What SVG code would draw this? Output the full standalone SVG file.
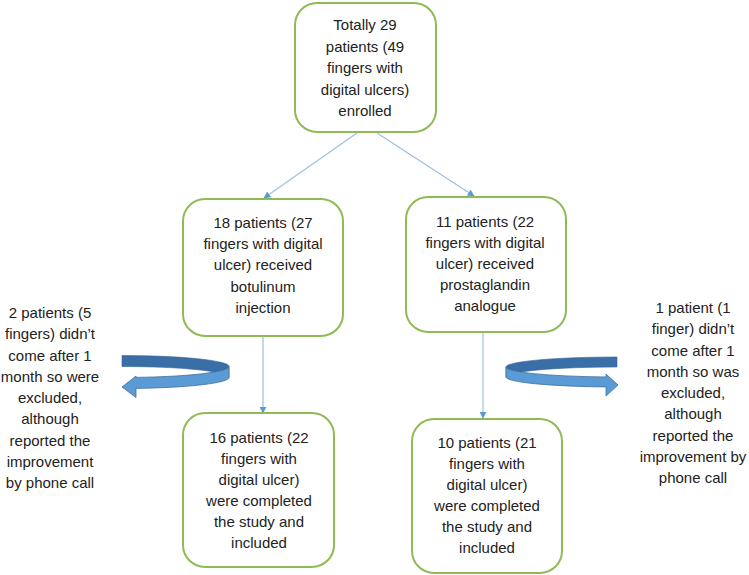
<svg xmlns="http://www.w3.org/2000/svg" width="749" height="575" viewBox="0 0 749 575">
<defs>
<style>
.box{fill:#fff;stroke:#8fbb57;stroke-width:2}
.t{font-family:"Liberation Sans",Arial,sans-serif;font-size:15px;fill:#222;text-anchor:middle}
.c{stroke:#9dbfe3;stroke-width:1.2;fill:none}
.back{fill:#3a6ea7;stroke:#35659a;stroke-width:0.6}
.front{fill:#5b9bd5;stroke:#41719c;stroke-width:0.8}
</style>
<marker id="ah" viewBox="0 0 10 10" refX="9" refY="5" markerWidth="7" markerHeight="7" orient="auto" markerUnits="userSpaceOnUse">
<path d="M0,0 L10,5 L0,10 Z" fill="#5b9bd5"/>
</marker>
</defs>
<rect width="749" height="575" fill="#fff"/>
<g id="connectors">
<line class="c" x1="357" y1="133" x2="264" y2="198" marker-end="url(#ah)"/>
<line class="c" x1="377" y1="133" x2="474" y2="196" marker-end="url(#ah)"/>
<line class="c" x1="263" y1="336" x2="263" y2="413" marker-end="url(#ah)"/>
<line class="c" x1="483" y1="332" x2="483" y2="418" marker-end="url(#ah)"/>
</g>
<g id="curved-left">
<path class="back" d="M122,355.5 A107,11 0 0 1 229,366.5 L229,377.5 A107,11 0 0 0 122,366.5 Z"/>
<path class="front" d="M229,366.5 A107,11 0 0 1 136,377.4 L136,376 L122,387 L136,397.5 L136,388.4 A107,11 0 0 0 229,377.5 Z"/>
</g>
<g id="curved-right">
<path class="back" d="M617,357 A111,10 0 0 0 506,367 L506,377 A111,10 0 0 1 617,367 Z"/>
<path class="front" d="M506,367 A111,10 0 0 0 606,376.95 L606,374 L618,385 L606,396 L606,386.95 A111,10 0 0 1 506,377 Z"/>
</g>
<g id="n-top">
<rect class="box" x="295" y="3" width="141" height="129" rx="22"/>
<text class="t"><tspan x="365" y="30">Totally 29</tspan><tspan x="365" y="51.5">patients (49</tspan><tspan x="365" y="73">fingers with</tspan><tspan x="365" y="94.5">digital ulcers)</tspan><tspan x="365" y="116">enrolled</tspan></text>
</g>
<g id="n-botulinum">
<rect class="box" x="183" y="199" width="160" height="137" rx="22"/>
<text class="t"><tspan x="263" y="228">18 patients (27</tspan><tspan x="263" y="249">fingers with digital</tspan><tspan x="263" y="270">ulcer) received</tspan><tspan x="263" y="291.5">botulinum</tspan><tspan x="263" y="312.5">injection</tspan></text>
</g>
<g id="n-prostaglandin">
<rect class="box" x="406" y="197" width="160" height="135" rx="22"/>
<text class="t"><tspan x="485" y="227">11 patients (22</tspan><tspan x="485" y="248">fingers with digital</tspan><tspan x="485" y="269">ulcer) received</tspan><tspan x="485" y="290">prostaglandin</tspan><tspan x="485" y="311">analogue</tspan></text>
</g>
<g id="n-included-left">
<rect class="box" x="183" y="413" width="151" height="154" rx="22"/>
<text class="t"><tspan x="259" y="443">16 patients (22</tspan><tspan x="259" y="464">fingers with</tspan><tspan x="259" y="485">digital ulcer)</tspan><tspan x="259" y="506">were completed</tspan><tspan x="259" y="527">the study and</tspan><tspan x="259" y="548">included</tspan></text>
</g>
<g id="n-included-right">
<rect class="box" x="412" y="419" width="150" height="154" rx="22"/>
<text class="t"><tspan x="487" y="448">10 patients (21</tspan><tspan x="487" y="469">fingers with</tspan><tspan x="487" y="490">digital ulcer)</tspan><tspan x="487" y="511">were completed</tspan><tspan x="487" y="532">the study and</tspan><tspan x="487" y="553">included</tspan></text>
</g>
<g id="n-excluded-left">
<text class="t"><tspan x="50" y="318">2 patients (5</tspan><tspan x="50" y="339.3">fingers) didn’t</tspan><tspan x="50" y="360.5">come after 1</tspan><tspan x="50" y="381.8">month so were</tspan><tspan x="50" y="403">excluded,</tspan><tspan x="50" y="424.3">although</tspan><tspan x="50" y="445.5">reported the</tspan><tspan x="50" y="466.8">improvement</tspan><tspan x="50" y="488">by phone call</tspan></text>
</g>
<g id="n-excluded-right">
<text class="t"><tspan x="693" y="313">1 patient (1</tspan><tspan x="693" y="334.3">finger) didn’t</tspan><tspan x="693" y="355.5">come after 1</tspan><tspan x="693" y="376.8">month so was</tspan><tspan x="693" y="398">excluded,</tspan><tspan x="693" y="419.3">although</tspan><tspan x="693" y="440.5">reported the</tspan><tspan x="693" y="461.8">improvement by</tspan><tspan x="693" y="483">phone call</tspan></text>
</g>
</svg>
